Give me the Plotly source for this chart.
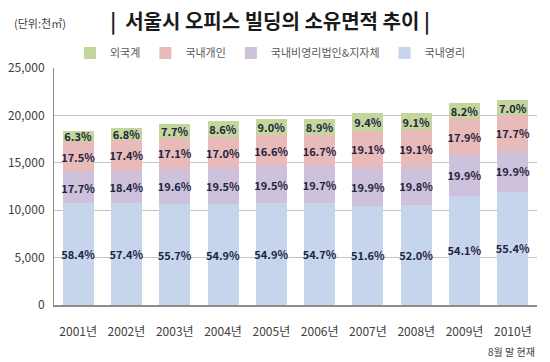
import plotly.graph_objects as go

years = ["2001년", "2002년", "2003년", "2004년", "2005년",
         "2006년", "2007년", "2008년", "2009년", "2010년"]

# area values (thousand m²)
domestic_profit = [10757, 10717, 10650, 10651, 10788, 10749, 10464, 10530, 11540, 11955]
nonprofit_local = [3260, 3435, 3748, 3783, 3832, 3871, 4036, 4010, 4245, 4294]
domestic_indiv = [3224, 3249, 3270, 3298, 3262, 3282, 3873, 3868, 3818, 3820]
foreign = [1160, 1270, 1472, 1668, 1769, 1749, 1906, 1843, 1749, 1511]

# share labels
pct_profit = ["58.4%", "57.4%", "55.7%", "54.9%", "54.9%", "54.7%", "51.6%", "52.0%", "54.1%", "55.4%"]
pct_nonprofit = ["17.7%", "18.4%", "19.6%", "19.5%", "19.5%", "19.7%", "19.9%", "19.8%", "19.9%", "19.9%"]
pct_indiv = ["17.5%", "17.4%", "17.1%", "17.0%", "16.6%", "16.7%", "19.1%", "19.1%", "17.9%", "17.7%"]
pct_foreign = ["6.3%", "6.8%", "7.7%", "8.6%", "9.0%", "8.9%", "9.4%", "9.1%", "8.2%", "7.0%"]

y_ticks = [0, 5000, 10000, 15000, 20000, 25000]

FONT = "Noto Sans CJK KR"
LABEL_COLOR = "#1f2440"

series = [
    ("국내영리", domestic_profit, pct_profit, "#c6d5eb"),
    ("국내비영리법인&지자체", nonprofit_local, pct_nonprofit, "#cdc1db"),
    ("국내개인", domestic_indiv, pct_indiv, "#e8bab9"),
    ("외국계", foreign, pct_foreign, "#c3d69b"),
]

fig = go.Figure()
for name, vals, labels, color in series:
    fig.add_trace(go.Bar(
        x=years, y=vals, name=name, text=labels,
        textposition="inside", insidetextanchor="middle", textangle=0,
        textfont=dict(family=FONT, size=11, color=LABEL_COLOR, weight="bold"),
        marker=dict(color=color, line=dict(width=0)),
        cliponaxis=False,
    ))

fig.update_layout(
    width=550, height=362,
    barmode="stack", bargap=0.36,
    margin=dict(l=54, r=13, t=68, b=57, autoexpand=False),
    paper_bgcolor="white", plot_bgcolor="white",
    font=dict(family=FONT, size=12, color="#404040"),
    uniformtext=dict(mode="show", minsize=11),
    showlegend=True,
    legend=dict(
        orientation="h", traceorder="reversed",
        xref="container", yref="container",
        x=70 / 550, xanchor="left",
        y=1 - 53 / 362, yanchor="middle",
        font=dict(family=FONT, size=11, color="#595959"),
        bgcolor="rgba(0,0,0,0)",
    ),
    title=dict(
        text="<b>|  서울시 오피스 빌딩의 소유면적 추이 |</b>",
        xref="container", yref="container",
        x=270 / 550, xanchor="center",
        y=1 - 22 / 362, yanchor="middle",
        font=dict(family=FONT, size=20, color="#1a1a1a"),
    ),
    annotations=[
        dict(text="(단위:천㎡)", xref="paper", yref="paper",
             x=-42 / 483, xanchor="left", y=1 + 45 / 237, yanchor="middle",
             showarrow=False, font=dict(family=FONT, size=11, color="#404040")),
        dict(text="8월 말 현재", xref="paper", yref="paper",
             x=1.0, xanchor="right", y=-46 / 237, yanchor="middle",
             showarrow=False, font=dict(family=FONT, size=10, color="#404040")),
    ],
)

fig.update_xaxes(
    showline=True, linecolor="#8c8c8c", linewidth=2,
    ticks="", ticklabelstandoff=15, automargin=False,
    tickfont=dict(family=FONT, size=12, color="#404040"),
    showgrid=False,
)
fig.update_yaxes(
    range=[0, 25000], tickvals=y_ticks, tickformat=",",
    showline=True, linecolor="#8c8c8c", linewidth=1,
    showgrid=True, gridcolor="#c4c4c4", gridwidth=1,
    zeroline=False, ticks="", ticklabelstandoff=6, automargin=False,
    tickfont=dict(family=FONT, size=12, color="#404040"),
)

fig.write_html("out.html", config={"displayModeBar": False},
               post_script="document.body.style.margin='0';")
